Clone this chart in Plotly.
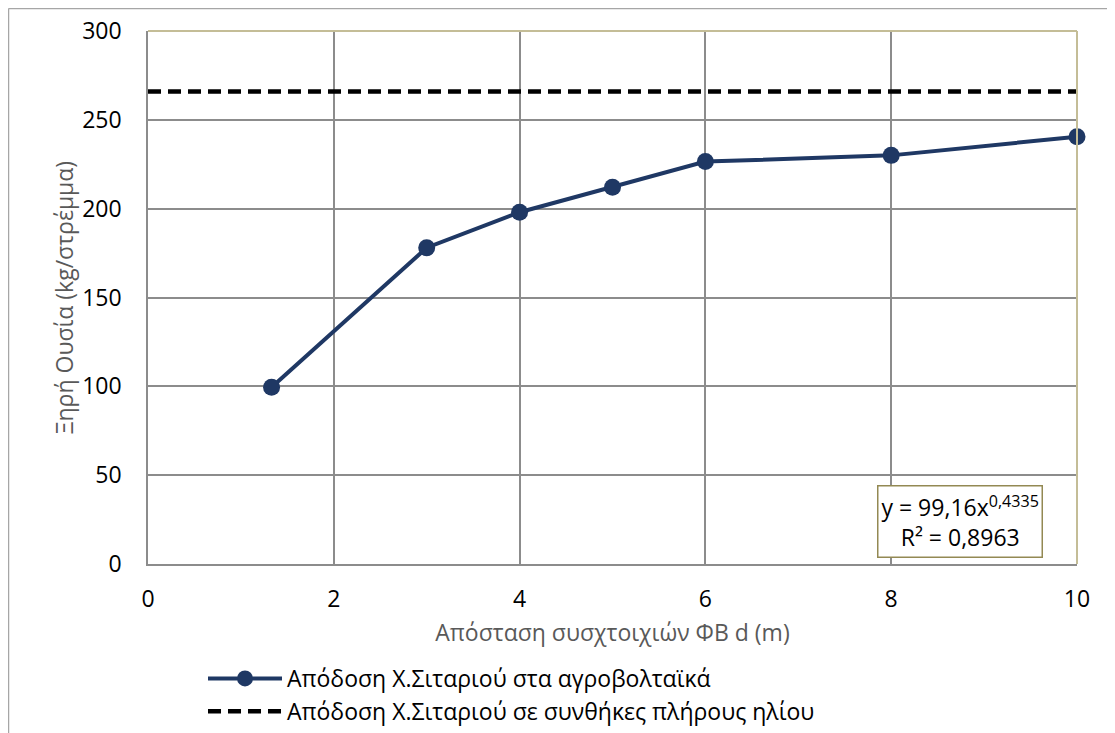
import plotly.graph_objects as go

distance_m = [1.33, 3, 4, 5, 6, 8, 10]
yield_agrivoltaic = [99.5, 178, 198, 212, 226.5, 230, 240.5]
full_sun_x = [0, 10]
full_sun_y = [266, 266]
series_names = ["Απόδοση Χ.Σιταριού στα αγροβολταϊκά",
                "Απόδοση Χ.Σιταριού σε συνθήκες πλήρους ηλίου"]
x_title = "Απόσταση συσχτοιχιών ΦΒ d (m)"
y_title = "Ξηρή Ουσία (kg/στρέμμα)"
fit_text = "y = 99,16x<sup>0,4335</sup><br>R² = 0,8963"

FONT = "Open Sans"
FS = 23
OFF = 8  # page body margin
W, H = 1107, 725
L, R, T, B = 140, 38, 23, 169
pw, ph = W - L - R, H - T - B


def px(page_x):
    return (page_x - OFF - L) / pw


def py(page_y):
    return (H - B - (page_y - OFF)) / ph


fig = go.Figure()
fig.add_trace(go.Scatter(
    x=distance_m, y=yield_agrivoltaic, mode="lines+markers",
    name=series_names[0],
    line=dict(color="#1F3864", width=4),
    marker=dict(color="#1F3864", size=17),
    cliponaxis=False,
))
fig.add_trace(go.Scatter(
    x=full_sun_x, y=full_sun_y, mode="lines",
    name=series_names[1],
    line=dict(color="black", width=4.5, dash="13px,7px"),
    cliponaxis=False,
))

grid = "#8C8C8C"
fig.update_layout(
    width=W, height=H,
    margin=dict(l=L, r=R, t=T, b=B, autoexpand=False),
    paper_bgcolor="white", plot_bgcolor="white",
    font=dict(family=FONT, size=FS, color="black"),
    showlegend=True,
    legend=dict(x=px(203), y=py(657), xanchor="left", yanchor="top",
                orientation="v", font=dict(size=FS, color="black"),
                itemwidth=74, tracegroupgap=0, bgcolor="rgba(0,0,0,0)"),
    xaxis=dict(range=[0, 10], dtick=2, tick0=0, showgrid=True, gridcolor=grid,
               gridwidth=1.5, zeroline=False, showline=True, linecolor=grid,
               linewidth=1.5, ticks="", tickfont=dict(size=FS), automargin=False,
               ticklabelstandoff=14,
               title=dict(text=x_title, font=dict(size=FS, color="#595959"), standoff=12)),
    yaxis=dict(range=[0, 300], dtick=50, tick0=0, showgrid=True, gridcolor=grid,
               gridwidth=1.5, zeroline=False, showline=True, linecolor=grid,
               linewidth=1.5, ticks="", tickfont=dict(size=FS), automargin=False,
               ticklabelstandoff=20,
               title=dict(text=y_title, font=dict(size=FS, color="#595959"), standoff=2)),
    shapes=[
        dict(type="line", xref="paper", yref="paper", x0=0, x1=1, y0=1, y1=1,
             line=dict(color="#C4BD97", width=2)),
        dict(type="line", xref="paper", yref="paper", x0=1, x1=1, y0=0, y1=1,
             line=dict(color="#C4BD97", width=2)),
        dict(type="line", xref="paper", yref="paper", x0=px(8.5), x1=px(1120),
             y0=py(8.5), y1=py(8.5), line=dict(color="#A6A6A6", width=1.5)),
        dict(type="line", xref="paper", yref="paper", x0=px(8.5), x1=px(8.5),
             y0=py(8.5), y1=py(740), line=dict(color="#A6A6A6", width=1.5)),
    ],
    annotations=[
        dict(text=fit_text, xref="paper", yref="paper", x=px(960), y=py(521),
             xanchor="center", yanchor="middle", showarrow=False,
             font=dict(size=FS, color="black"), align="center",
             bordercolor="#938953", borderwidth=1.5, borderpad=3,
             bgcolor="white"),
    ],
)

fig.write_html("out.html")
